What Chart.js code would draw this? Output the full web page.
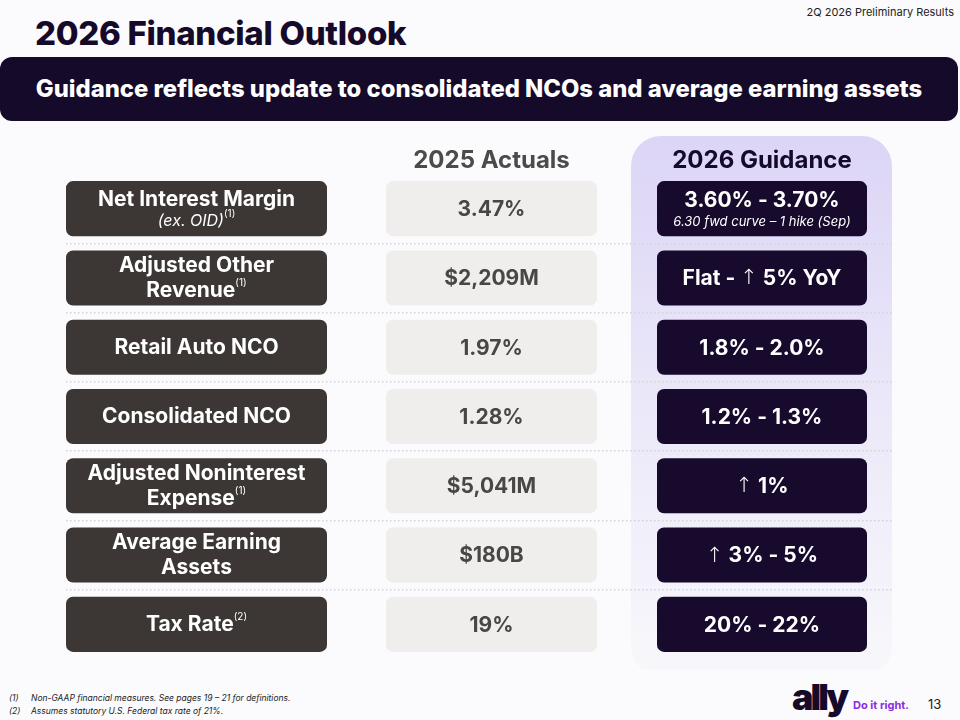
<!DOCTYPE html>
<html>
<head>
<meta charset="utf-8">
<script src="https://cdn.jsdelivr.net/npm/chart.js@4.4.1/dist/chart.umd.min.js"></script>
<style>
  html, body { margin: 0; padding: 0; }
  body { width: 960px; height: 720px; background: #fbfbfd; position: relative; overflow: hidden;
         font-family: Inter, "Noto Sans", sans-serif; color: #160a2a; }
  .top-note { position: absolute; right: 6px; top: 5px; font-size: 11px; color: #222; }
  .title { position: absolute; left: 35px; top: 13px; font-size: 33px; font-weight: 800; letter-spacing: -0.3px; }
  .banner { position: absolute; left: 0; top: 57px; width: 958px; height: 64px; background: #160a2a;
            border-radius: 12px; color: #fff; font-size: 23.8px; font-weight: 800; text-align: center; line-height: 64px; }
  #wrap { position: absolute; left: 0; top: 130px; width: 960px; height: 540px; }
  .foot { position: absolute; left: 0; top: 692px; font-size: 8.5px; font-style: italic; color: #222; line-height: 12.5px; }
  .foot span { display: inline-block; width: 22px; padding-left: 9px; }
  .logo { position: absolute; left: 792px; top: 675px; font-size: 36px; font-weight: 900; color: #160a2a; letter-spacing: -3px; }
  .tag { position: absolute; left: 853px; top: 698px; font-size: 11px; font-weight: 700; color: #8a2be2; }
  .page { position: absolute; left: 928px; top: 696px; font-size: 13px; color: #222; }
</style>
</head>
<body>
<div class="top-note">2Q 2026 Preliminary Results</div>
<div class="title">2026 Financial Outlook</div>
<div class="banner">Guidance reflects update to consolidated NCOs and average earning assets</div>
<div id="wrap"><canvas id="outlook"></canvas></div>
<div class="foot"><div><span>(1)</span>Non-GAAP financial measures. See pages 19 – 21 for definitions.</div><div><span>(2)</span>Assumes statutory U.S. Federal tax rate of 21%.</div></div>
<div class="logo">ally</div>
<div class="tag">Do it right.</div>
<div class="page">13</div>
<script>
// table content
const metrics = ["Net Interest Margin", "Adjusted Other Revenue", "Retail Auto NCO", "Consolidated NCO",
                 "Adjusted Noninterest Expense", "Average Earning Assets", "Tax Rate"];
const metricLines = [["Net Interest Margin", "(ex. OID)"], ["Adjusted Other", "Revenue"], ["Retail Auto NCO"],
                     ["Consolidated NCO"], ["Adjusted Noninterest", "Expense"], ["Average Earning", "Assets"], ["Tax Rate"]];
const metricNotes = ["(1)", "(1)", "", "", "(1)", "", "(2)"];
const actuals2025 = ["3.47%", "$2,209M", "1.97%", "1.28%", "$5,041M", "$180B", "19%"];
const guidance2026 = ["3.60% - 3.70%", "Flat - ↑ 5% YoY", "1.8% - 2.0%", "1.2% - 1.3%", "↑ 1%", "↑ 3% - 5%", "20% - 22%"];
const guidanceNotes = ["6.30 fwd curve – 1 hike (Sep)", "", "", "", "", "", ""];
const columnHeaders = ["2025 Actuals", "2026 Guidance"];

const FONT = "Inter, 'Noto Sans', sans-serif";
const BOLD = "bold 21px " + FONT;
// column extents on the x scale (layout)
const cols = [[0, 261], [320, 531], [591, 801]];
const panel = [565, 826];

// guidance panel behind the third column
const guidancePanel = {
  id: 'guidancePanel',
  beforeDraw(chart) {
    const { ctx, chartArea, scales } = chart;
    const x0 = scales.x.getPixelForValue(panel[0]);
    const x1 = scales.x.getPixelForValue(panel[1]);
    const y0 = chartArea.top - 38, y1 = chartArea.bottom + 17;
    const g = ctx.createLinearGradient(0, y0, 0, y1);
    g.addColorStop(0, '#dcd5f6');
    g.addColorStop(0.5, '#ebe8f9');
    g.addColorStop(1, '#f8f8fb');
    ctx.save();
    ctx.fillStyle = g;
    ctx.beginPath();
    ctx.roundRect(x0, y0, x1 - x0, y1 - y0, 30);
    ctx.fill();
    ctx.restore();
  }
};

function drawWithNote(ctx, text, note, font, cx, cy) {
  ctx.font = font;
  const w = ctx.measureText(text).width;
  let wn = 0;
  if (note) { ctx.font = "10px " + FONT; wn = ctx.measureText(note).width; }
  const left = cx - (w + wn) / 2;
  ctx.font = font;
  ctx.textAlign = 'left';
  ctx.fillText(text, left, cy);
  if (note) {
    ctx.font = "10px " + FONT;
    ctx.fillText(note, left + w, cy - 7);
  }
}

// guidance text: the arrows are drawn thinner than the figures
function drawRuns(ctx, text, cx, cy) {
  const parts = text.split('↑');
  const runs = [];
  parts.forEach((p, k) => {
    if (k > 0) runs.push({ t: '↑', f: "300 21px 'DejaVu Sans', " + FONT });
    if (p) runs.push({ t: p, f: BOLD });
  });
  let total = 0;
  runs.forEach(r => { ctx.font = r.f; r.w = ctx.measureText(r.t).width; total += r.w; });
  let x = cx - total / 2;
  ctx.textAlign = 'left';
  runs.forEach(r => { ctx.font = r.f; ctx.fillText(r.t, x, cy); x += r.w; });
}

// text inside the cells
const cellText = {
  id: 'cellText',
  afterDatasetsDraw(chart) {
    const ctx = chart.ctx;
    ctx.save();
    ctx.textBaseline = 'middle';
    chart.getDatasetMeta(0).data.forEach((bar, i) => {
      const cx = (bar.x + bar.base) / 2;
      const lines = metricLines[i];
      const hs = lines.map(l => l[0] === '(' ? 18 : 25);
      const total = hs.reduce((a, b) => a + b, 0);
      let y = bar.y - total / 2;
      ctx.fillStyle = '#ffffff';
      lines.forEach((l, k) => {
        const italic = l[0] === '(';
        const font = italic ? "italic 16px " + FONT : BOLD;
        const note = k === lines.length - 1 ? metricNotes[i] : "";
        drawWithNote(ctx, l, note, font, cx, y + hs[k] / 2);
        y += hs[k];
      });
    });
    chart.getDatasetMeta(1).data.forEach((bar, i) => {
      ctx.fillStyle = '#4a4646';
      ctx.font = BOLD;
      ctx.textAlign = 'center';
      ctx.fillText(actuals2025[i], (bar.x + bar.base) / 2, bar.y + 1);
    });
    chart.getDatasetMeta(2).data.forEach((bar, i) => {
      const cx = (bar.x + bar.base) / 2;
      ctx.fillStyle = '#ffffff';
      if (guidanceNotes[i]) {
        drawRuns(ctx, guidance2026[i], cx, bar.y - 8);
        ctx.font = "italic 13px " + FONT;
        ctx.textAlign = 'center';
        ctx.fillText(guidanceNotes[i], cx, bar.y + 13);
      } else {
        drawRuns(ctx, guidance2026[i], cx, bar.y + 1);
      }
    });
    ctx.restore();
  }
};

function cellSet(label, col, color) {
  return {
    label: label,
    data: metrics.map(() => cols[col]),
    backgroundColor: color,
    borderRadius: 7,
    borderSkipped: false,
    grouped: false,
    barPercentage: 0.795,
    categoryPercentage: 1
  };
}

new Chart(document.getElementById('outlook').getContext('2d'), {
  type: 'bar',
  data: {
    labels: metrics,
    datasets: [
      cellSet('Metric', 0, '#3c3735'),
      cellSet(columnHeaders[0], 1, '#efeeec'),
      cellSet(columnHeaders[1], 2, '#170a2c')
    ]
  },
  options: {
    indexAxis: 'y',
    responsive: true,
    maintainAspectRatio: false,
    animation: false,
    layout: { padding: { left: 66, right: 68, top: 0, bottom: 11 } },
    plugins: { legend: { display: false }, tooltip: { enabled: false } },
    scales: {
      x: {
        type: 'linear',
        position: 'top',
        min: 0,
        max: 826,
        grid: { display: false },
        border: { display: false },
        afterBuildTicks: s => { s.ticks = cols.slice(1).map(c => ({ value: (c[0] + c[1]) / 2 })); },
        afterFit: s => { s.height = 44; },
        ticks: {
          autoSkip: false,
          maxRotation: 0,
          padding: -9,
          callback: (v, i) => columnHeaders[i],
          color: c => c.index === 0 ? '#4d4a4a' : '#160a2a',
          font: { family: FONT, size: 24, weight: 'bold' }
        }
      },
      y: {
        type: 'category',
        ticks: { display: false },
        border: { display: false, dash: [1.5, 2.5] },
        grid: {
          drawTicks: false,
          offset: true,
          color: c => (c.type === 'tick' && c.index > 0) ? '#d3d3da' : 'transparent',
          lineWidth: 1.5,
          borderDash: [1.5, 2.5]
        }
      }
    }
  },
  plugins: [guidancePanel, cellText]
});
</script>
</body>
</html>
